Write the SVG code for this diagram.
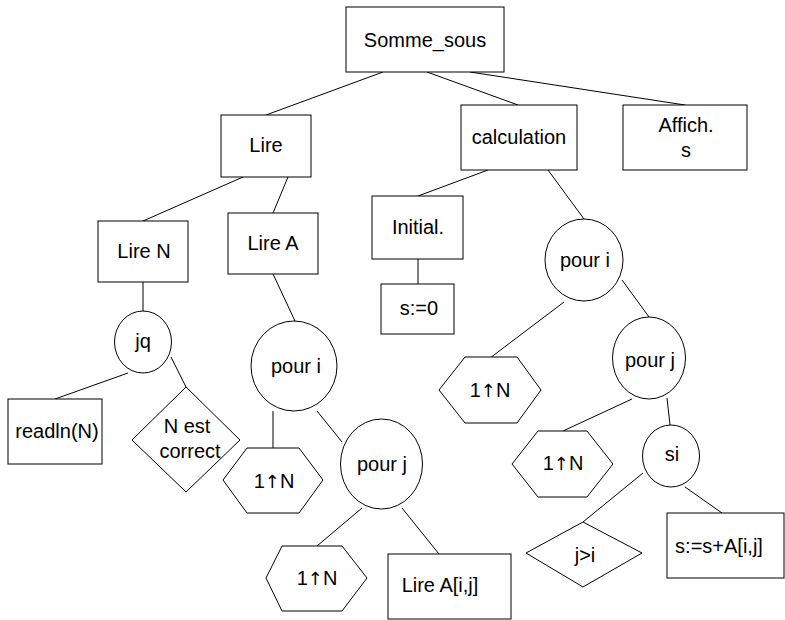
<svg xmlns="http://www.w3.org/2000/svg" width="785" height="620" viewBox="0 0 785 620">
<style>
.s{fill:#fff;stroke:#000;stroke-width:1}
.t{font-family:"Liberation Sans","DejaVu Sans",sans-serif;font-size:20px;fill:#000;text-anchor:middle}
.ar{font-family:"DejaVu Sans",sans-serif;font-size:18px}
#edges line{stroke:#000;stroke-width:1}
</style>
<rect width="785" height="620" fill="#fff"/>
<g id="edges">
<line x1="383" y1="72" x2="266" y2="115"/>
<line x1="427" y1="72" x2="518" y2="105"/>
<line x1="470" y1="72" x2="685" y2="105"/>
<line x1="243" y1="177" x2="143" y2="221"/>
<line x1="288" y1="177" x2="273" y2="213"/>
<line x1="143" y1="282" x2="143" y2="311"/>
<line x1="273" y1="274" x2="295" y2="321"/>
<line x1="128" y1="373" x2="55" y2="399"/>
<line x1="171" y1="357" x2="186" y2="387"/>
<line x1="273" y1="411" x2="273" y2="448"/>
<line x1="317" y1="411" x2="342" y2="442"/>
<line x1="362" y1="508" x2="317" y2="546"/>
<line x1="402" y1="508" x2="439" y2="554"/>
<line x1="488" y1="170" x2="418" y2="196"/>
<line x1="418" y1="259" x2="418" y2="284"/>
<line x1="548" y1="170" x2="584" y2="219"/>
<line x1="564" y1="302" x2="490" y2="358"/>
<line x1="622" y1="280" x2="649" y2="317"/>
<line x1="632" y1="399" x2="563" y2="431"/>
<line x1="667" y1="398" x2="670" y2="425"/>
<line x1="643" y1="473" x2="583" y2="522"/>
<line x1="685" y1="487" x2="722" y2="513"/>
</g>
<g id="somme_sous"><rect class="s" x="346" y="7" width="158" height="65"/><text class="t" x="425" y="47">Somme_sous</text></g>
<g id="lire"><rect class="s" x="221" y="115" width="90" height="62"/><text class="t" x="266" y="152">Lire</text></g>
<g id="calculation"><rect class="s" x="461" y="105" width="116" height="65"/><text class="t" x="519" y="144">calculation</text></g>
<g id="affich"><rect class="s" x="623" y="105" width="124" height="65"/><text class="t" x="686" y="132">Affich.</text><text class="t" x="686" y="157">s</text></g>
<g id="lire_n"><rect class="s" x="98" y="221" width="90" height="61"/><text class="t" x="144" y="258">Lire N</text></g>
<g id="lire_a"><rect class="s" x="228" y="213" width="90" height="61"/><text class="t" x="273" y="250">Lire A</text></g>
<g id="jq"><ellipse class="s" cx="143" cy="342" rx="28.5" ry="31"/><text class="t" x="143" y="348">jq</text></g>
<g id="readln"><rect class="s" x="8" y="399" width="94" height="65"/><text class="t" x="57" y="438">readln(N)</text></g>
<g id="n_est_correct"><polygon class="s" points="186,387 240,440 186,492 132,440"/><text class="t" x="187" y="433">N est</text><text class="t" x="190" y="458">correct</text></g>
<g id="pour_i_a"><ellipse class="s" cx="294" cy="366" rx="43" ry="45"/><text class="t" x="296" y="373">pour i</text></g>
<g id="hex_a1"><polygon class="s" points="247,448 299,448 323,480 299,513 247,513 223,480"/><text class="t" x="274" y="488">1<tspan class="ar">↑</tspan>N</text></g>
<g id="pour_j_a"><ellipse class="s" cx="381.5" cy="464" rx="41" ry="45"/><text class="t" x="382" y="471">pour j</text></g>
<g id="hex_a2"><polygon class="s" points="282,546 342,546 367,578 342,611 282,611 266,578"/><text class="t" x="317" y="585">1<tspan class="ar">↑</tspan>N</text></g>
<g id="lire_aij"><rect class="s" x="388" y="554" width="123" height="65"/><text class="t" x="440" y="592">Lire A[i,j]</text></g>
<g id="initial"><rect class="s" x="372" y="196" width="91" height="63"/><text class="t" x="418" y="234">Initial.</text></g>
<g id="s0"><rect class="s" x="381" y="284" width="73" height="50"/><text class="t" x="419" y="315">s:=0</text></g>
<g id="pour_i_c"><ellipse class="s" cx="584" cy="260" rx="39" ry="41"/><text class="t" x="585" y="267">pour i</text></g>
<g id="hex_c1"><polygon class="s" points="465,357 517,357 541,390 517,423 465,423 439,390"/><text class="t" x="490" y="397">1<tspan class="ar">↑</tspan>N</text></g>
<g id="pour_j_c"><ellipse class="s" cx="649" cy="358" rx="36.5" ry="41"/><text class="t" x="650" y="367">pour j</text></g>
<g id="hex_c2"><polygon class="s" points="538,431 587,431 613,464 587,497 538,497 512,464"/><text class="t" x="563" y="470">1<tspan class="ar">↑</tspan>N</text></g>
<g id="si"><ellipse class="s" cx="671" cy="456" rx="28.5" ry="31"/><text class="t" x="672" y="461">si</text></g>
<g id="jgti"><polygon class="s" points="583,522 642,553 583,587 526,553"/><text class="t" x="585" y="562">j&gt;i</text></g>
<g id="s_sum"><rect class="s" x="667" y="513" width="117" height="65"/><text class="t" x="719" y="553">s:=s+A[i,j]</text></g>
</svg>
